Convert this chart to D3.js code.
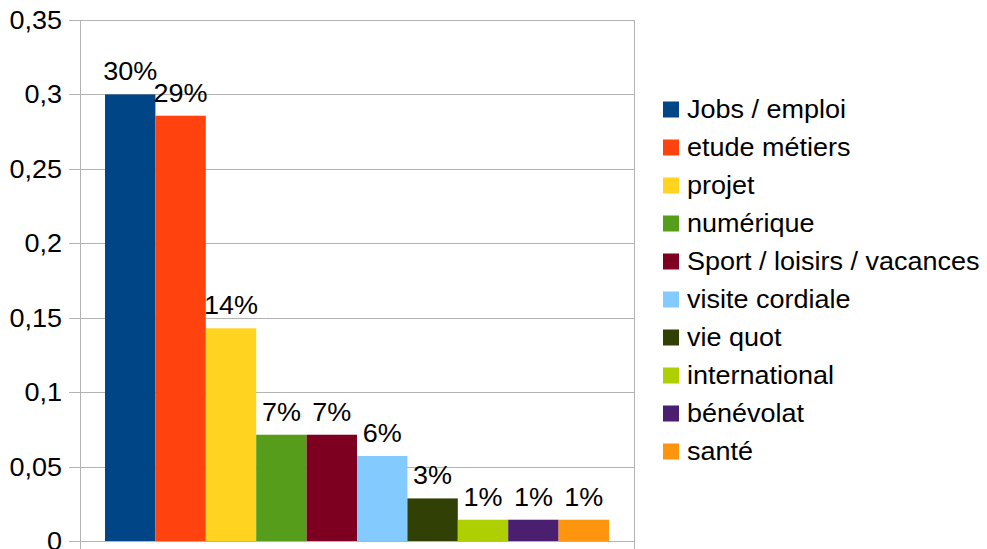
<!DOCTYPE html>
<html>
<head>
<meta charset="utf-8">
<script src="https://cdn.jsdelivr.net/npm/d3@7"></script>
<style>
  body { margin: 0; background: #fff; }
  text { font-family: "Liberation Sans", Arial, sans-serif; fill: #000; font-size: 25px; }
</style>
</head>
<body>
<svg width="987" height="549"></svg>
<script>
// series names and their shares
const names = ["Jobs / emploi", "etude métiers", "projet", "numérique",
  "Sport / loisirs / vacances", "visite cordiale", "vie quot", "international",
  "bénévolat", "santé"];
const values = [0.3, 0.2857, 0.1429, 0.0714, 0.0714, 0.0571, 0.0286, 0.0143, 0.0143, 0.0143];
const yTicks = [0, 0.05, 0.1, 0.15, 0.2, 0.25, 0.3, 0.35];
const colors = ["#004586", "#ff420e", "#ffd320", "#579d1c", "#7e0021",
  "#83caff", "#314004", "#aecf00", "#4b1f6f", "#ff950e"];

const plot = { left: 80, right: 634, top: 20, bottom: 541 };
const sx = 1.08; // text in the source is a little wide
const svg = d3.select("svg");

const y = d3.scaleLinear().domain([0, 0.35]).range([plot.bottom, plot.top]);
const x = d3.scaleBand().domain(names).range([plot.left + 25, plot.right - 25]);
const color = d3.scaleOrdinal().domain(names).range(colors);

// gridlines
svg.append("g")
  .selectAll("line")
  .data(yTicks)
  .join("line")
  .attr("x1", plot.left - 11)
  .attr("x2", plot.right)
  .attr("y1", d => Math.round(y(d)) + 0.5)
  .attr("y2", d => Math.round(y(d)) + 0.5)
  .attr("stroke", "#b3b3b3");

// y labels (comma decimals)
svg.append("g")
  .selectAll("text")
  .data(yTicks)
  .join("text")
  .attr("transform", d => `translate(62, ${y(d) + 9}) scale(${sx}, 1)`)
  .attr("text-anchor", "end")
  .text(d => String(+d.toFixed(2)).replace(".", ","));

// bars
svg.append("g")
  .selectAll("rect")
  .data(names)
  .join("rect")
  .attr("x", d => x(d))
  .attr("width", x.bandwidth())
  .attr("y", (d, i) => y(values[i]))
  .attr("height", (d, i) => plot.bottom - y(values[i]))
  .attr("fill", d => color(d));

// value labels
svg.append("g")
  .selectAll("text")
  .data(names)
  .join("text")
  .attr("transform", (d, i) =>
    `translate(${x(d) + x.bandwidth() / 2}, ${y(values[i]) - 14}) scale(${sx}, 1)`)
  .attr("text-anchor", "middle")
  .text((d, i) => Math.round(values[i] * 100) + "%");

// axis frame
svg.append("line")
  .attr("x1", plot.left + 0.5).attr("x2", plot.left + 0.5)
  .attr("y1", plot.top).attr("y2", 549)
  .attr("stroke", "#b3b3b3");
svg.append("line")
  .attr("x1", plot.right + 0.5).attr("x2", plot.right + 0.5)
  .attr("y1", plot.top).attr("y2", 549)
  .attr("stroke", "#b3b3b3");

// legend
const legend = svg.append("g").attr("transform", "translate(663, 109)");
const items = legend.selectAll("g")
  .data(names)
  .join("g")
  .attr("transform", (d, i) => `translate(0, ${i * 38})`);
items.append("rect")
  .attr("x", 0).attr("y", -7.5)
  .attr("width", 16).attr("height", 16)
  .attr("fill", d => color(d));
items.append("text")
  .attr("transform", `translate(24, 9) scale(${sx}, 1)`)
  .text(d => d);
</script>
</body>
</html>
